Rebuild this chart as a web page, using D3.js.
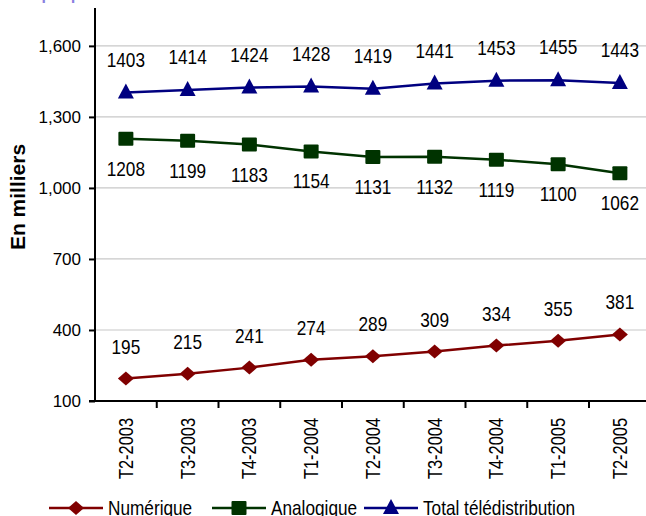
<!DOCTYPE html>
<html>
<head>
<meta charset="utf-8">
<script src="https://cdn.jsdelivr.net/npm/d3@7"></script>
<style>
  html, body { margin: 0; padding: 0; background: #fff; }
  svg { display: block; }
</style>
</head>
<body>
<svg id="chart" width="646" height="516"></svg>
<script>
// Abonnés au câble par trimestre (en milliers)
const categories = ["T2-2003", "T3-2003", "T4-2003", "T1-2004", "T2-2004", "T3-2004", "T4-2004", "T1-2005", "T2-2005"];
const numerique  = [195, 215, 241, 274, 289, 309, 334, 355, 381];
const analogique = [1208, 1199, 1183, 1154, 1131, 1132, 1119, 1100, 1062];
const total      = [1403, 1414, 1424, 1428, 1419, 1441, 1453, 1455, 1443];
const yTicks     = [100, 400, 700, 1000, 1300, 1600];
const seriesNames = ["Numérique", "Analogique", "Total télédistribution"];

// Condensed look: Arial-metric font squeezed horizontally
const sans = "'Liberation Sans', Arial, sans-serif";
const squeeze = 0.82;

const svg = d3.select("#chart");

const plotLeft = 95, plotBottom = 401, plotTop = 8;
const band = 61.75;

const x = d3.scaleBand().domain(categories).range([plotLeft, plotLeft + band * categories.length]).paddingInner(0).paddingOuter(0);
const y = d3.scaleLinear().domain([100, 1760]).range([plotBottom, plotTop]);
const cx = c => x(c) + x.bandwidth() / 2;

// Title (mostly above the visible area)
svg.append("text")
  .attr("x", 14).attr("y", -0.4)
  .attr("font-family", sans).attr("font-size", 16).attr("font-weight", "bold")
  .attr("fill", "#8a80e0")
  .text("Graphique 3 : Abonnés à la télédistribution");

// Gridlines
svg.append("g").selectAll("line")
  .data(yTicks.filter(t => t > 100))
  .join("line")
  .attr("x1", plotLeft).attr("x2", 646)
  .attr("y1", d => y(d)).attr("y2", d => y(d))
  .attr("stroke", "#c8c8c8").attr("stroke-width", 1.2);

// Y axis
const yAxis = svg.append("g")
  .attr("transform", `translate(${plotLeft},0)`)
  .call(d3.axisLeft(y).tickValues(yTicks).tickFormat(d3.format(",")).tickSize(6).tickPadding(8));
yAxis.select(".domain").attr("stroke", "#000").attr("stroke-width", 2).attr("d", `M0,${plotTop}V${plotBottom}`);
yAxis.selectAll(".tick line").attr("stroke", "#000").attr("stroke-width", 2);
yAxis.selectAll(".tick text").attr("font-family", sans).attr("font-size", 17).attr("fill", "#000");

// X axis
const xAxis = svg.append("g")
  .attr("transform", `translate(0,${plotBottom})`)
  .call(d3.axisBottom(x).tickSize(0).tickPadding(0));
xAxis.select(".domain").attr("stroke", "#000").attr("stroke-width", 2).attr("d", `M${plotLeft - 6},0H646`);
xAxis.selectAll(".tick text")
  .attr("font-family", sans).attr("font-size", 20).attr("fill", "#000")
  .attr("text-anchor", "end")
  .attr("y", 0)
  .attr("dy", "0.35em")
  .attr("transform", `translate(0,17) rotate(-90) scale(${squeeze},1)`);
// tick marks at category boundaries
svg.append("g").selectAll("line")
  .data(categories.slice(1))
  .join("line")
  .attr("x1", d => x(d)).attr("x2", d => x(d))
  .attr("y1", plotBottom).attr("y2", plotBottom + 7)
  .attr("stroke", "#000").attr("stroke-width", 2);

// Y axis title
svg.append("text")
  .attr("transform", `translate(25,${197}) rotate(-90)`)
  .attr("text-anchor", "middle")
  .attr("font-family", sans).attr("font-size", 21).attr("font-weight", "bold")
  .text("En milliers");

// Marker shapes
const markers = {
  diamond: (g, color) => g.append("path").attr("d", "M-8,0L0,-7L8,0L0,7Z").attr("fill", color),
  square: (g, color) => g.append("rect").attr("x", -7.5).attr("y", -7).attr("width", 15).attr("height", 14).attr("rx", 1).attr("fill", color),
  triangle: (g, color) => g.append("path").attr("d", "M0,-9L8,6L-8,6Z").attr("fill", color)
};

const series = [
  { name: seriesNames[0], values: numerique,  color: "#800000", marker: "diamond",  labelDy: -25 },
  { name: seriesNames[1], values: analogique, color: "#003300", marker: "square",   labelDy: 37 },
  { name: seriesNames[2], values: total,      color: "#000080", marker: "triangle", labelDy: -26 }
];

const line = d3.line().x(d => cx(d.c)).y(d => y(d.v));

series.forEach(s => {
  const pts = categories.map((c, i) => ({ c, v: s.values[i] }));
  svg.append("path")
    .datum(pts)
    .attr("d", line)
    .attr("fill", "none")
    .attr("stroke", s.color)
    .attr("stroke-width", 2.5);
  pts.forEach(p => {
    const g = svg.append("g").attr("transform", `translate(${cx(p.c)},${y(p.v)})`);
    markers[s.marker](g, s.color);
  });
  svg.append("g").selectAll("text")
    .data(pts)
    .join("text")
    .attr("transform", d => `translate(${cx(d.c)},${y(d.v) + s.labelDy}) scale(${squeeze},1)`)
    .attr("text-anchor", "middle")
    .attr("font-family", sans).attr("font-size", 21).attr("fill", "#000")
    .text(d => d.v);
});

// Legend
const legendX = [49, 212, 364];
const legendY = 508;
const legendLen = 54;
series.forEach((s, i) => {
  const g = svg.append("g").attr("transform", `translate(${legendX[i]},${legendY})`);
  g.append("line").attr("x1", 0).attr("x2", legendLen).attr("y1", 0).attr("y2", 0)
    .attr("stroke", s.color).attr("stroke-width", 2.5);
  const m = g.append("g").attr("transform", `translate(${legendLen / 2},0)`);
  markers[s.marker](m, s.color);
  g.append("text")
    .attr("transform", `translate(${legendLen + 5},7) scale(${squeeze},1)`)
    .attr("font-family", sans).attr("font-size", 21).attr("fill", "#000")
    .text(s.name);
});
</script>
</body>
</html>
